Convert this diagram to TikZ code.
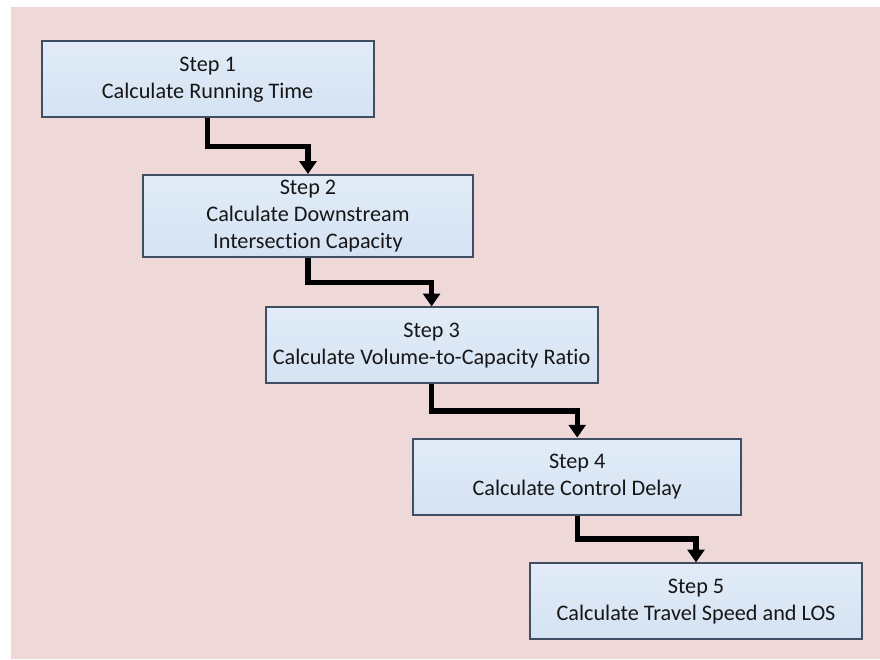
\documentclass[tikz,border=0pt]{standalone}
\usepackage{fontspec}
\setmainfont{Carlito}[Ligatures=NoCommon]
\usepackage{tikz}
\usetikzlibrary{arrows.meta,shadings,positioning,calc,backgrounds}

\definecolor{pagepink}{RGB}{238,216,216}
\definecolor{boxblue}{RGB}{212,226,242}
\definecolor{boxtop}{RGB}{226,236,248}
\definecolor{boxline}{RGB}{64,78,100}
\definecolor{txtgray}{RGB}{22,22,22}

\begin{document}
\begin{tikzpicture}[>={Triangle[width=0.42cm,length=0.32cm]},
  stepbox/.style={draw=boxline,line width=1.4pt,top color=boxtop,bottom color=boxblue,
    minimum width=8.3cm,minimum height=1.9cm,align=center,text=txtgray,
    font=\fontsize{15.8}{19}\selectfont,inner sep=0pt},
  flow/.style={->,line width=3.6pt,black,line join=miter}]
\useasboundingbox (0,0) rectangle (22,16.475);
\fill[pagepink] (0.275,0) rectangle (22,16.3);

\node[stepbox] (s1) at (5.19,14.49) {Step 1\\Calculate Running Time};
\node[stepbox,minimum width=8.25cm,minimum height=2.05cm] (s2) at (7.7,11.075) {Step 2\\Calculate Downstream\\Intersection Capacity};
\node[stepbox] (s3) at (10.79,7.84) {Step 3\\Calculate Volume-to-Capacity Ratio};
\node[stepbox,minimum width=8.2cm] (s4) at (14.43,4.56) {Step 4\\Calculate Control Delay};
\node[stepbox] (s5) at (17.4,1.44) {Step 5\\Calculate Travel Speed and LOS};

\draw[flow] (s1.south) |- ($(s1.south)!.5!(s2.north)$) -| (s2.north);
\draw[flow] (s2.south) |- ($(s2.south)!.5!(s3.north)$) -| (s3.north);
\draw[flow] (s3.south) |- ($(s3.south)!.5!(s4.north)$) -| (s4.north);
\draw[flow] (s4.south) |- ($(s4.south)!.5!(s5.north)$) -| (s5.north);

\end{tikzpicture}
\end{document}
